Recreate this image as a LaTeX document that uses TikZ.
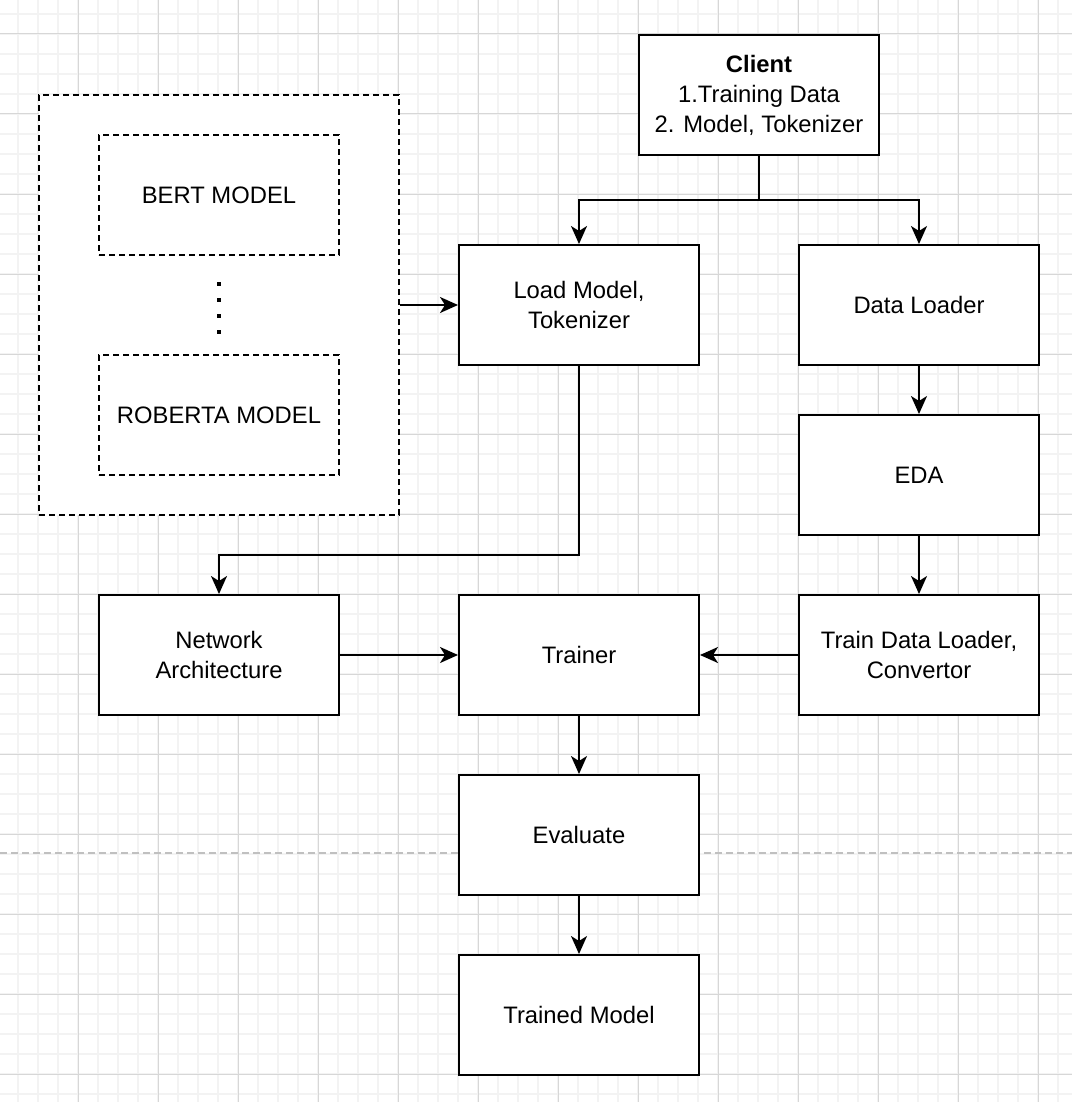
\documentclass[tikz,border=0pt]{standalone}
\usepackage{fontspec}
\setmainfont{Liberation Sans}
\usetikzlibrary{arrows.meta}
\definecolor{gridminor}{RGB}{243,243,243}
\definecolor{gridmajor}{RGB}{215,215,215}
\definecolor{pagebreak}{RGB}{192,192,192}
\begin{document}
\begin{tikzpicture}[x=1pt,y=-1pt,
  box/.style={draw=black, line width=2pt, fill=white, minimum width=240pt,
    minimum height=120pt, align=center, inner sep=0pt,
    font=\fontsize{23.8}{30}\selectfont},
  dbox/.style={box, dash pattern=on 6pt off 4pt},
  arr/.style={line width=2pt, -{Stealth[length=18pt,width=16pt,inset=5pt]}},
  ]
% canvas and background grid
\fill[white] (0,0) rectangle (1072,1102);
\useasboundingbox (0,0) rectangle (1072,1102);
\foreach \gx in {18,38,...,1058} \draw[gridminor, line width=2pt] (\gx,0) -- (\gx,1102);
\foreach \gy in {14,34,...,1094} \draw[gridminor, line width=2pt] (0,\gy) -- (1072,\gy);
\foreach \gx in {78,158,...,1038} \draw[gridmajor, line width=1pt] (\gx,0) -- (\gx,1102);
\foreach \gy in {34,114,...,1074} \draw[gridmajor, line width=1pt] (0,\gy) -- (1072,\gy);
% page break
\draw[pagebreak, line width=2pt, dash pattern=on 7pt off 4pt] (0,853) -- (1072,853);

% model zoo
\node[dbox, minimum width=360pt, minimum height=420pt] (zoo) at (219,305) {};
\node[dbox] (bert) at (219,195) {BERT MODEL};
\node[dbox] (roberta) at (219,415) {ROBERTA MODEL};
\foreach \dy in {284,300,316,332} \fill (217,\dy-2) rectangle (221,\dy+2);

% pipeline boxes
\node[box] (client) at (759,95) {\textbf{Client}\\1.Training Data\\2. Model, Tokenizer};
\node[box] (load) at (579,305) {Load Model,\\Tokenizer};
\node[box] (data) at (919,305) {Data Loader};
\node[box] (eda) at (919,475) {EDA};
\node[box] (tdl) at (919,655) {Train Data Loader,\\Convertor};
\node[box] (trainer) at (579,655) {Trainer};
\node[box] (net) at (219,655) {Network\\Architecture};
\node[box] (eval) at (579,835) {Evaluate};
\node[box] (trained) at (579,1015) {Trained Model};

% connectors
\coordinate (split) at (759,200);
\draw[line width=2pt] (client.south) -- (split);
\draw[arr] (split) -| (load.north);
\draw[arr] (split) -| (data.north);
\draw[arr] (zoo.east) -- (load.west);
\coordinate (bend) at (579,555);
\draw[arr] (load.south) -- (bend) -| (net.north);
\draw[arr] (data.south) -- (eda.north);
\draw[arr] (eda.south) -- (tdl.north);
\draw[arr] (net.east) -- (trainer.west);
\draw[arr] (tdl.west) -- (trainer.east);
\draw[arr] (trainer.south) -- (eval.north);
\draw[arr] (eval.south) -- (trained.north);
\end{tikzpicture}
\end{document}
